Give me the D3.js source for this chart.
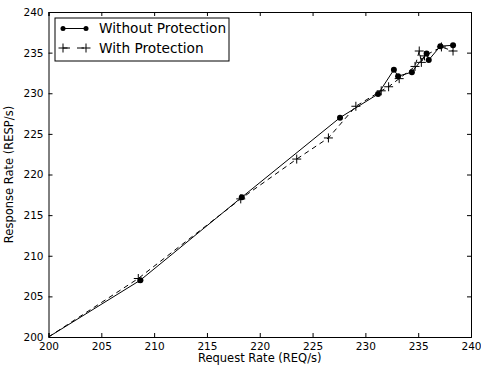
<!DOCTYPE html>
<html>
<head>
<meta charset="utf-8">
<script src="https://cdn.jsdelivr.net/npm/d3@7"></script>
<style>
  body { margin: 0; background: #fff; }
  text { font-family: "DejaVu Sans", sans-serif; fill: #000; }
</style>
</head>
<body>
<div id="chart"></div>
<script>
// request rate / response rate pairs
const withoutReq = [200, 208.7, 218.3, 227.6, 231.2, 232.7, 233.1, 234.4, 235.8, 236.0, 237.1, 238.3];
const withoutResp = [200, 207.0, 217.2, 227.0, 229.9, 232.9, 232.1, 232.6, 234.9, 234.1, 235.8, 235.9];

const withReq = [200, 208.5, 218.2, 223.5, 226.5, 229.1, 231.5, 232.2, 233.2, 234.7, 235.1, 235.3, 235.6, 237.2, 238.3];
const withResp = [200, 207.2, 217.0, 221.9, 224.5, 228.4, 230.3, 230.8, 231.8, 233.3, 235.2, 233.8, 234.6, 235.7, 235.2];

const ticks = [200, 205, 210, 215, 220, 225, 230, 235, 240];
const seriesNames = ['Without Protection', 'With Protection'];

const width = 481, height = 370;
const margin = { top: 12, right: 10, bottom: 33, left: 48.5 };
const w = width - margin.left - margin.right;
const h = height - margin.top - margin.bottom;

const svg = d3.select('#chart').append('svg')
  .attr('width', width)
  .attr('height', height);

const g = svg.append('g')
  .attr('transform', 'translate(' + margin.left + ',' + margin.top + ')');

const x = d3.scaleLinear().domain([200, 240]).range([0, w]);
const y = d3.scaleLinear().domain([200, 240]).range([h, 0]);

// clip for data
svg.append('defs').append('clipPath').attr('id', 'clip')
  .append('rect').attr('width', w).attr('height', h);

// axes with inward ticks on all sides
const tickFmt = d3.format('d');
g.append('g').attr('transform', 'translate(0,' + h + ')')
  .call(d3.axisBottom(x).tickValues(ticks).tickSize(-4).tickPadding(6).tickFormat(tickFmt));
g.append('g')
  .call(d3.axisTop(x).tickValues(ticks).tickSize(-4).tickFormat(''));
g.append('g')
  .call(d3.axisLeft(y).tickValues(ticks).tickSize(-4).tickPadding(5).tickFormat(tickFmt));
g.append('g').attr('transform', 'translate(' + w + ',0)')
  .call(d3.axisRight(y).tickValues(ticks).tickSize(-4).tickFormat(''));

g.selectAll('.domain').attr('stroke', '#000').attr('stroke-width', 1);
g.selectAll('.tick line').attr('stroke', '#000');
g.selectAll('.tick text').style('font-size', '10.5px').style('font-family', '"DejaVu Sans", sans-serif');

// axis labels
svg.append('text')
  .attr('x', margin.left + w / 2)
  .attr('y', 362)
  .attr('text-anchor', 'middle')
  .style('font-size', '11.5px')
  .text('Request Rate (REQ/s)');

svg.append('text')
  .attr('transform', 'translate(13,' + (margin.top + h / 2) + ') rotate(-90)')
  .attr('text-anchor', 'middle')
  .style('font-size', '11.5px')
  .text('Response Rate (RESP/s)');

const withoutData = withoutReq.map((d, i) => [d, withoutResp[i]]);
const withData = withReq.map((d, i) => [d, withResp[i]]);

const line = d3.line().x(d => x(d[0])).y(d => y(d[1]));
const plot = g.append('g').attr('clip-path', 'url(#clip)');

// with protection: dashed + plus markers
plot.append('path')
  .datum(withData)
  .attr('d', line)
  .attr('fill', 'none')
  .attr('stroke', '#000')
  .attr('stroke-width', 1)
  .attr('stroke-dasharray', '5,4');

plot.selectAll('.plus')
  .data(withData.slice(1))
  .enter()
  .append('path')
  .attr('class', 'plus')
  .attr('transform', d => 'translate(' + x(d[0]) + ',' + y(d[1]) + ')')
  .attr('d', 'M-4.5,0H4.5M0,-4.5V4.5')
  .attr('stroke', '#000')
  .attr('stroke-width', 1)
  .attr('fill', 'none');

// without protection: solid + dots
plot.append('path')
  .datum(withoutData)
  .attr('d', line)
  .attr('fill', 'none')
  .attr('stroke', '#000')
  .attr('stroke-width', 1);

plot.selectAll('.dot')
  .data(withoutData.slice(1))
  .enter()
  .append('circle')
  .attr('class', 'dot')
  .attr('cx', d => x(d[0]))
  .attr('cy', d => y(d[1]))
  .attr('r', 3)
  .attr('fill', '#000');

// legend
const legend = svg.append('g').attr('transform', 'translate(55,18)');
legend.append('rect')
  .attr('width', 174).attr('height', 43)
  .attr('fill', '#fff').attr('stroke', '#000').attr('stroke-width', 1);

const entries = legend.selectAll('.entry')
  .data(seriesNames)
  .enter()
  .append('g')
  .attr('transform', (d, i) => 'translate(0,' + (10.5 + i * 19.5) + ')');

entries.append('line')
  .attr('x1', 8).attr('x2', 31)
  .attr('stroke', '#000')
  .attr('stroke-dasharray', (d, i) => i === 0 ? null : '7,7');

entries.filter((d, i) => i === 0).selectAll('circle')
  .data([8, 31]).enter().append('circle')
  .attr('cx', d => d).attr('r', 2.5).attr('fill', '#000');

entries.filter((d, i) => i === 1).selectAll('path')
  .data([8, 31]).enter().append('path')
  .attr('transform', d => 'translate(' + d + ',0)')
  .attr('d', 'M-4.5,0H4.5M0,-4.5V4.5')
  .attr('stroke', '#000');

entries.append('text')
  .attr('x', 44)
  .attr('dy', '0.35em')
  .style('font-size', '13.7px')
  .text(d => d);
</script>
</body>
</html>
